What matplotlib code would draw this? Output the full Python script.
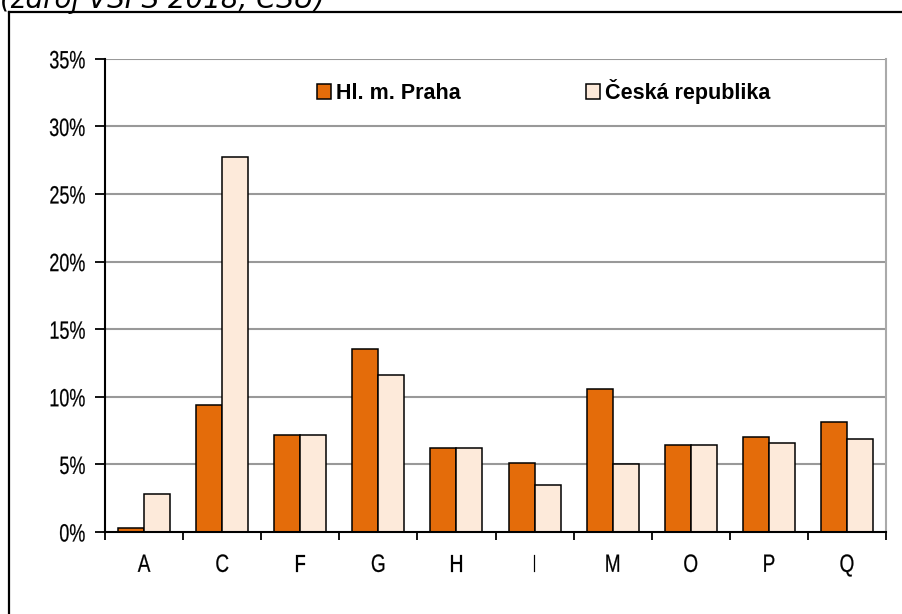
import matplotlib
matplotlib.use("Agg")
import matplotlib.pyplot as plt
import numpy as np
from matplotlib.lines import Line2D
from matplotlib.patheffects import AbstractPathEffect
from matplotlib.transforms import Affine2D

categories = ["A", "C", "F", "G", "H", "I", "M", "O", "P", "Q"]
praha = [0.3, 9.4, 7.2, 13.5, 6.2, 5.1, 10.6, 6.45, 7.05, 8.1]
cr = [2.8, 27.7, 7.2, 11.6, 6.2, 3.5, 5.0, 6.45, 6.6, 6.9]
series_names = ["Hl. m. Praha", "Česká republika"]
yticks = [0, 5, 10, 15, 20, 25, 30, 35]
title = "(zdroj VŠPS 2018, ČSÚ)"


class Condense(AbstractPathEffect):
    """Horizontally compress text glyphs around an anchor (0=left, 0.5=center, 1=right)."""

    def __init__(self, sx=0.8, anchor=0.5, stroke=0.15):
        super().__init__()
        self.sx = sx
        self.anchor = anchor
        self.stroke = stroke

    def draw_path(self, renderer, gc, tpath, affine, rgbFace=None):
        ext = tpath.get_extents()
        ax0 = ext.x0 + self.anchor * ext.width
        t = Affine2D().translate(-ax0, 0).scale(self.sx, 1).translate(ax0, 0)
        gc0 = renderer.new_gc()
        gc0.copy_properties(gc)
        gc0.set_linewidth(self.stroke)
        gc0.set_foreground("black")
        renderer.draw_path(gc0, tpath, t + affine, rgbFace)
        gc0.restore()


W, H = 903, 614
fig = plt.figure(figsize=(W / 100, H / 100), dpi=100)
ax = fig.add_axes([105 / W, 1 - 532 / H, (886 - 105) / W, (532 - 58.8) / H])

x = np.arange(len(categories))
bw = 0.333
ax.bar(x - bw / 2, praha, bw, color="#E46C0A", edgecolor="black", linewidth=1.1,
       label=series_names[0], zorder=3)
ax.bar(x + bw / 2, cr, bw, color="#FDEADA", edgecolor="black", linewidth=1.1,
       label=series_names[1], zorder=3)

ax.set_xlim(-0.5, len(categories) - 0.5)
ax.set_ylim(0, 35)
ax.set_yticks(yticks)
ylabels = ax.set_yticklabels([f"{v}%" for v in yticks], fontfamily="Liberation Sans", fontsize=18)
ax.set_xticks(x)
xlabels = ax.set_xticklabels(categories, fontfamily="Liberation Sans", fontsize=18)
for t in ylabels:
    t.set_path_effects([Condense(0.72, 1.0)])
for t in xlabels:
    t.set_path_effects([Condense(0.76, 0.5)])
ax.set_xticks(np.arange(len(categories) + 1) - 0.5, minor=True)
ax.tick_params(axis="x", which="major", length=0, pad=15)
ax.tick_params(axis="x", which="minor", length=6, width=1.3, direction="out")
ax.tick_params(axis="y", length=7, width=1.3, direction="out", pad=7)

for v in yticks[1:]:
    ax.axhline(v, color="#999999", linewidth=1.5, zorder=1)

ax.spines["left"].set_linewidth(1.5)
ax.spines["bottom"].set_linewidth(1.5)
ax.spines["bottom"].set_zorder(4)
ax.spines["top"].set_visible(False)
ax.spines["right"].set_color("#aaaaaa")
ax.spines["right"].set_linewidth(1.5)

leg = ax.legend(ncol=2, loc="upper left", bbox_to_anchor=((317 - 105) / (886 - 105), 1 - (79 - 58.8) / (532 - 58.8)),
                frameon=False, handlelength=0.65, handleheight=0.65, handletextpad=0.25,
                columnspacing=5.8, borderaxespad=0, borderpad=0,
                prop={"family": "Liberation Sans", "weight": "bold", "size": 15.5})

fig.text(0, 1 - 8 / H, title, fontfamily="DejaVu Sans", style="italic", fontsize=20,
         va="baseline", ha="left")

fig.add_artist(Line2D([9 / W, 9 / W], [0, 1 - 12 / H], transform=fig.transFigure,
                      color="black", linewidth=1.6))
fig.add_artist(Line2D([9 / W, 1], [1 - 12 / H, 1 - 12 / H], transform=fig.transFigure,
                      color="black", linewidth=1.6))

fig.savefig("out.png", dpi=100)
